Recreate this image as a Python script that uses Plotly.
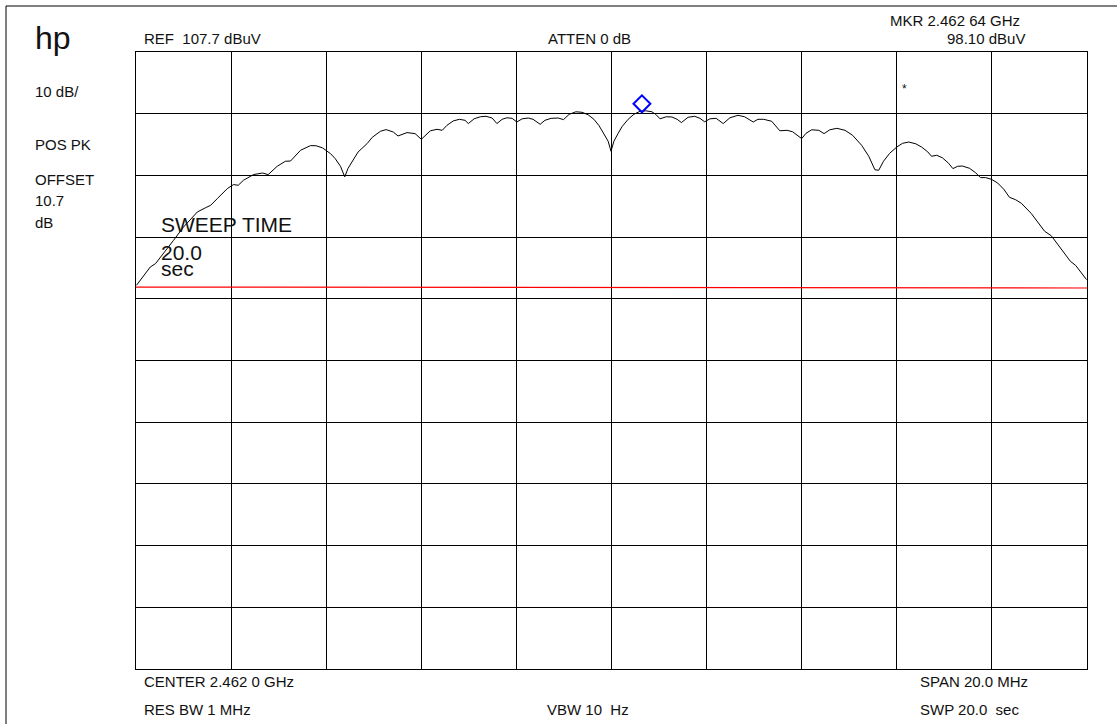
import plotly.graph_objects as go

# ---- data ----
FREQ_MHZ = [-9.99, -9.70, -9.59, -9.42, -9.21, -9.00, -8.71, -8.54, -8.43, -8.29,
            -8.08, -7.95, -7.85, -7.74, -7.53, -7.34, -7.22, -7.03, -6.86, -6.75,
            -6.54, -6.33, -6.21, -6.08, -5.91, -5.81, -5.70, -5.61, -5.54, -5.33,
            -5.14, -5.03, -4.86, -4.74, -4.59, -4.49, -4.30, -4.13, -4.00, -3.81,
            -3.67, -3.56, -3.46, -3.33, -3.20, -3.08, -3.01, -2.89, -2.76, -2.64,
            -2.51, -2.41, -2.30, -2.20, -2.09, -1.99, -1.88, -1.75, -1.65, -1.50,
            -1.40, -1.27, -1.12, -1.01, -0.89, -0.75, -0.62, -0.49, -0.37, -0.26,
            -0.16, -0.07, -0.01, 0.05, 0.14, 0.22, 0.35, 0.47, 0.60, 0.72,
            0.85, 0.93, 1.02, 1.15, 1.27, 1.38, 1.47, 1.61, 1.75, 1.86,
            1.96, 2.07, 2.20, 2.35, 2.49, 2.66, 2.80, 2.98, 3.08, 3.20,
            3.37, 3.54, 3.69, 3.81, 4.00, 4.09, 4.21, 4.36, 4.47, 4.59,
            4.74, 4.91, 5.07, 5.26, 5.41, 5.54, 5.62, 5.72, 5.85, 6.00,
            6.12, 6.25, 6.40, 6.52, 6.65, 6.73, 6.84, 6.96, 7.09, 7.18,
            7.28, 7.38, 7.53, 7.66, 7.76, 7.87, 7.99, 8.12, 8.25, 8.37,
            8.50, 8.62, 8.83, 9.00, 9.11, 9.25, 9.38, 9.56, 9.65, 9.76,
            9.86, 9.99]
LEVEL_DBUV = [69.89, 72.85, 73.40, 75.03, 77.18, 79.34, 81.77, 82.45, 82.85, 83.94,
              85.56, 86.21, 86.10, 86.91, 87.83, 88.09, 87.83, 89.18, 89.99, 90.03,
              91.77, 92.53, 92.50, 92.17, 91.23, 90.42, 89.18, 87.47, 88.85, 91.49,
              92.85, 93.88, 94.85, 95.12, 94.73, 94.09, 94.64, 94.47, 93.55, 94.93,
              95.17, 95.01, 95.82, 96.52, 96.79, 96.63, 96.10, 96.87, 97.20, 97.28,
              97.00, 96.10, 96.79, 97.04, 96.95, 96.35, 96.87, 97.00, 96.79, 95.98,
              96.63, 96.95, 97.00, 96.74, 97.60, 98.01, 97.93, 97.52, 96.79, 95.74,
              94.52, 93.23, 91.61, 93.23, 94.52, 95.58, 96.79, 97.60, 98.09, 98.17,
              98.01, 97.60, 96.87, 97.20, 97.17, 96.79, 96.26, 97.12, 97.28, 96.95,
              96.39, 96.87, 96.95, 96.10, 97.04, 97.44, 97.20, 96.35, 96.79, 96.79,
              96.47, 94.93, 95.01, 94.77, 93.66, 94.52, 95.09, 95.01, 94.47, 95.09,
              95.33, 95.01, 94.20, 92.58, 90.80, 88.61, 88.53, 89.99, 91.28, 92.30,
              92.90, 93.11, 92.82, 92.30, 91.52, 90.80, 90.96, 90.55, 89.66, 88.80,
              89.18, 89.22, 88.85, 88.12, 87.34, 87.34, 87.07, 86.47, 85.45, 84.15,
              83.75, 83.18, 81.51, 79.77, 78.64, 77.91, 76.53, 74.54, 73.78, 73.13,
              72.16, 70.81]
LIMIT_FREQ = [-10.0, -2.0, 9.0, 10.0]
LIMIT_LEVEL = [69.6, 69.55, 69.55, 69.45]

MKR_FREQ = 0.64
MKR_LEVEL = 98.10
REF_LEVEL = 107.7
DB_PER_DIV = 10
N_DIV = 10
SPAN_MHZ = 20.0

# ---- layout geometry (pixels) ----
W_PX, H_PX = 1117, 724
L, T, R, B = 136, 52, 30, 55
PW, PH = W_PX - L - R, H_PX - T - B


def px(x):
    return (x - L) / PW


def py(y):
    return 1 - (y - T) / PH


FONT = "Liberation Sans, Arial, sans-serif"

fig = go.Figure()
fig.add_trace(go.Scatter(x=LIMIT_FREQ, y=LIMIT_LEVEL, mode="lines",
                         line=dict(color="#ff0000", width=1.2),
                         hoverinfo="skip", showlegend=False))
fig.add_trace(go.Scatter(x=FREQ_MHZ, y=LEVEL_DBUV, mode="lines",
                         line=dict(color="#000000", width=1),
                         showlegend=False))
# marker diamond sits with its lower tip on the marker point
DIAMOND_LIFT_DB = 1.2
fig.add_trace(go.Scatter(x=[MKR_FREQ], y=[MKR_LEVEL + DIAMOND_LIFT_DB], mode="markers",
                         marker=dict(symbol="diamond-open", size=13, color="#0000ff",
                                     line=dict(color="#0000ff", width=2)),
                         showlegend=False))

bottom = REF_LEVEL - DB_PER_DIV * N_DIV
fig.update_xaxes(range=[-SPAN_MHZ / 2, SPAN_MHZ / 2], tick0=-SPAN_MHZ / 2,
                 dtick=SPAN_MHZ / N_DIV, showticklabels=False, ticks="",
                 showgrid=True, gridcolor="#000000", gridwidth=1,
                 zeroline=False, showline=True, linecolor="#000000",
                 linewidth=1, mirror=True, fixedrange=True)
fig.update_yaxes(range=[bottom, REF_LEVEL], tick0=bottom, dtick=DB_PER_DIV,
                 showticklabels=False, ticks="",
                 showgrid=True, gridcolor="#000000", gridwidth=1,
                 zeroline=False, showline=True, linecolor="#000000",
                 linewidth=1, mirror=True, fixedrange=True)

texts = [
    ("hp", 33, 38, "left", 32),
    ("10 dB/", 33, 91, "left", 15),
    ("POS PK", 33, 144, "left", 15),
    ("OFFSET", 33, 179, "left", 15),
    ("10.7", 33, 200, "left", 15),
    ("dB", 33, 222, "left", 15),
    ("REF\u00a0\u00a0107.7 dBuV", 142, 39, "left", 15),
    ("ATTEN 0 dB", 589, 39, "center", 15),
    ("MKR 2.462 64 GHz", 1022, 20, "right", 15),
    ("98.10 dBuV", 1027, 39, "right", 15),
    ("SWEEP TIME", 159, 224, "left", 21),
    ("20.0", 159, 252, "left", 21),
    ("sec", 159, 268, "left", 21),
    ("*", 904, 89, "center", 12),
    ("CENTER 2.462 0 GHz", 142, 681, "left", 15),
    ("SPAN 20.0 MHz", 918, 681, "left", 15),
    ("RES BW 1 MHz", 142, 709, "left", 15),
    ("VBW 10\u00a0\u00a0Hz", 545, 709, "left", 15),
    ("SWP 20.0\u00a0\u00a0sec", 918, 709, "left", 15),
]
annotations = []
for txt, x, y, xa, size in texts:
    annotations.append(dict(text=txt, x=px(x), y=py(y), xref="paper", yref="paper",
                            xanchor=xa, yanchor="middle", showarrow=False,
                            font=dict(family=FONT, size=size, color="#111111")))

shapes = [dict(type="rect", xref="paper", yref="paper",
               x0=px(6), y0=py(6), x1=px(1200), y1=py(800),
               line=dict(color="#000000", width=1), fillcolor="rgba(0,0,0,0)",
               layer="below")]

fig.update_layout(width=W_PX, height=H_PX,
                  margin=dict(l=L, r=R, t=T, b=B, pad=0),
                  paper_bgcolor="#ffffff", plot_bgcolor="#ffffff",
                  annotations=annotations, shapes=shapes,
                  font=dict(family=FONT), hovermode=False)

fig.write_html("out.html", config={"displayModeBar": False})
